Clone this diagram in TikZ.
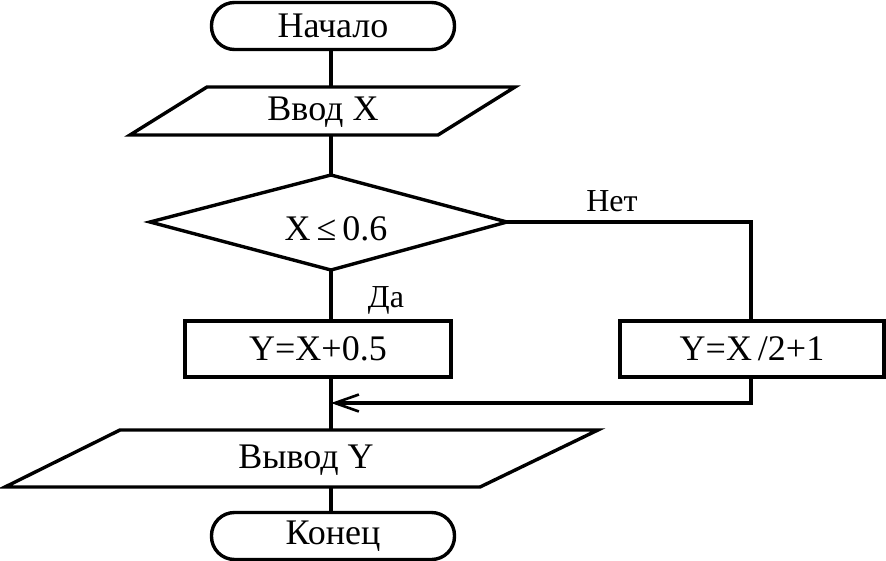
\documentclass[tikz,border=0pt]{standalone}
\usepackage{fontspec}
\setmainfont{Liberation Serif}
\usetikzlibrary{arrows.meta}
\begin{document}
\begin{tikzpicture}[x=1pt,y=-1pt,
  ln/.style={line width=3.4pt, line join=miter},
  term/.style={draw, ln, rounded corners=23pt, minimum width=243pt, minimum height=47pt, inner sep=0pt},
  proc/.style={draw, ln, minimum height=56pt, inner sep=0pt},
  txt/.style={font=\fontsize{36}{40}\selectfont, inner sep=0pt},
  lbl/.style={font=\fontsize{32}{36}\selectfont, inner sep=0pt}]
\useasboundingbox (0,0) rectangle (886,560);
% Start
\node[term, txt] (start) at (333,26) {Начало};
% Input
\coordinate (inT) at (331,87);
\coordinate (inB) at (331,135);
\draw[ln] (207,87) -- (515,87) -- (438,135) -- (130,135) -- cycle;
\node[txt] (in) at (323,112) {Ввод X};
% Decision
\coordinate (dT) at (331,175);
\coordinate (dB) at (331,270);
\coordinate (dR) at (507,222);
\coordinate (dL) at (150,222);
\draw[ln] (dT) -- (dR) -- (dB) -- (dL) -- cycle;
\node[txt] (cond) at (336,229) {X\,≤\,0.6};
% Yes box
\node[proc, txt, minimum width=266pt] (yes) at (318,349) {Y=X+0.5};
% No box
\node[proc, txt, minimum width=264pt] (no) at (752,349) {Y=X\,/2+1};
% Output
\coordinate (outT) at (331,430);
\coordinate (outB) at (331,487);
\draw[ln] (120,430) -- (598,430) -- (480,487) -- (5,487) -- cycle;
\node[txt] (out) at (306,460) {Вывод Y};
% End
\node[term, txt] (end) at (333,536) {Конец};
% labels
\node[lbl] (net) at (612,201) {Нет};
\node[lbl] (da) at (386,300) {Да};
% connectors
\draw[ln] (start.south -| inT) -- (inT);
\draw[ln] (inB) -- (dT);
\draw[ln] (dB) -- (yes.north -| dB);
\coordinate (nc) at (751,222);
\coordinate (mrg) at (331,403);
\coordinate (nr) at (751,403);
\draw[ln] (dR) -- (nc) -- (no.north -| nc);
\draw[ln] (yes.south -| dB) -- (outT);
\draw[ln, -{Straight Barb[length=24pt,width=17pt,line width=2.6pt]}] (no.south -| nc) -- (nr) -- (mrg);
\draw[ln] (outB) -- (end.north -| outB);
\end{tikzpicture}
\end{document}
